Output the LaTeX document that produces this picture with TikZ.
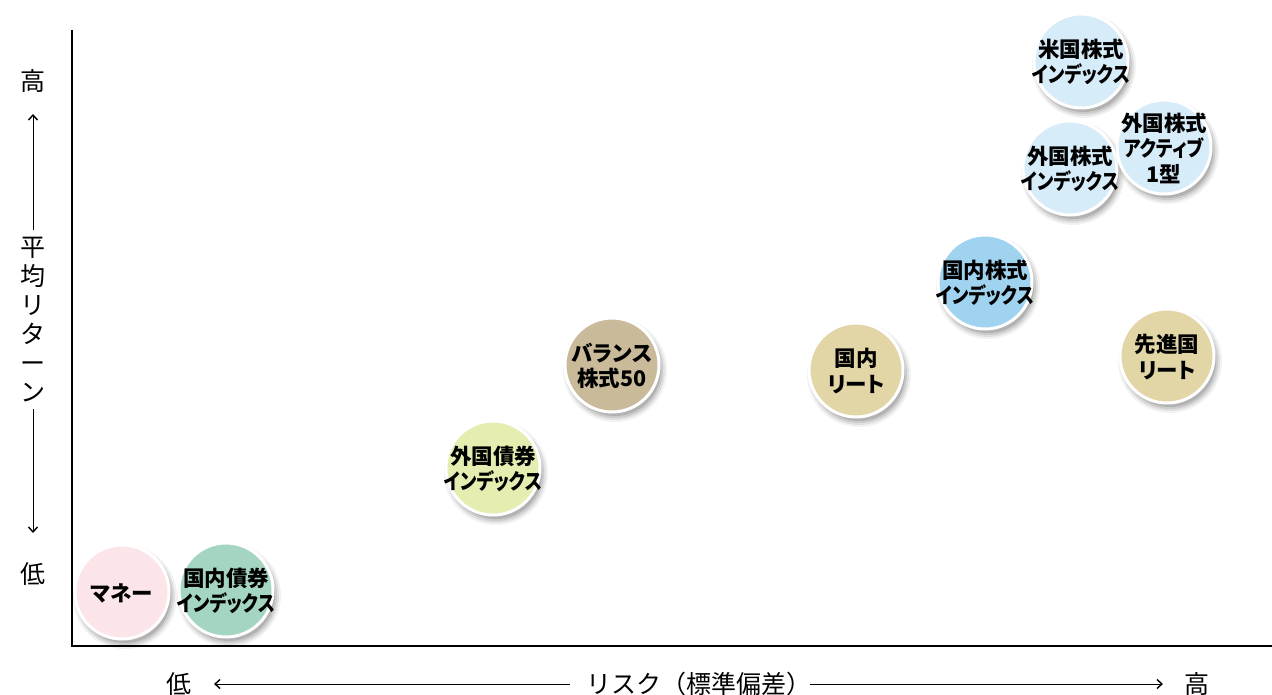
\documentclass[tikz,border=0pt]{standalone}
\usepackage{fontspec}
\setmainfont{Noto Sans CJK JP}
\newfontfamily\bubfont{Noto Sans CJK JP}[RawFeature=+palt]
\usetikzlibrary{arrows.meta}
\definecolor{cPink}{HTML}{FBE5E9}
\definecolor{cGreen}{HTML}{A3D5C0}
\definecolor{cLime}{HTML}{E5EDB0}
\definecolor{cTan}{HTML}{C9BA9A}
\definecolor{cSand}{HTML}{E2D6A7}
\definecolor{cBlue}{HTML}{9FD3F0}
\definecolor{cPale}{HTML}{D6ECF8}
\newcommand\kana[1]{\scalebox{0.84}[1]{#1}}
\tikzset{
  bub/.style={circle, minimum size=94pt, inner sep=0pt, draw=white, line width=3pt},
  bubtext/.style={align=center, inner sep=0pt, font=\bubfont\bfseries\fontsize{21.5}{25.5}\selectfont, text=black},
  axlabel/.style={inner sep=0pt, font=\fontsize{25}{27}\selectfont},
  axline/.style={line width=2.6pt, black},
  guide/.style={line width=1pt, black, -{Straight Barb[length=5pt,width=9pt,line width=1.4pt]}}
}
\newcommand\bubble[5]{%
  \foreach \r/\o in {52/0.05,50/0.07,48/0.09,46/0.12}{
    \fill[black, opacity=\o] (#2+3,#3+5) circle (\r pt);
  }
  \node[bub, fill=#4] (#1) at (#2,#3) {};
  \node[bubtext] (#1t) at ([yshift=-1pt]#1) {#5};
}
\begin{document}
\begin{tikzpicture}[x=1pt, y=-1pt]
\useasboundingbox[fill=white] (0,0) rectangle (1272,695);
% axes
\coordinate (ytop) at (72,30);
\coordinate (orig) at (72,646);
\coordinate (xend) at (1272,646);
\draw[axline] (ytop) -- (orig) -- (xend);
% y axis labels
\node[axlabel] (yhi) at (33,81) {高};
\node[axlabel, align=center, font=\fontsize{25}{29}\selectfont] (ytitle) at (33,320) {平\\均\\リ\\タ\\ー\\ン};
\node[axlabel] (ylo) at (33,574) {低};
\coordinate (yu1) at (33,230);
\coordinate (yu2) at (33,114);
\coordinate (yd1) at (33,409);
\coordinate (yd2) at (33,533);
\draw[guide] (yu1) -- (yu2);
\draw[guide] (yd1) -- (yd2);
% x axis labels
\node[axlabel] (xlo) at (179,684) {低};
\node[axlabel] (xtitle) at (699,684) {リスク（標準偏差）};
\node[axlabel] (xhi) at (1197,684) {高};
\coordinate (xl1) at (570,684);
\coordinate (xl2) at (214,684);
\coordinate (xr1) at (810,684);
\coordinate (xr2) at (1163,684);
\draw[guide] (xl1) -- (xl2);
\draw[guide] (xr1) -- (xr2);
% bubbles
\bubble{money}{122}{592}{cPink}{マネー}
\bubble{dombond}{226}{590}{cGreen}{国内債券\\\kana{インデックス}}
\bubble{forbond}{493}{468}{cLime}{外国債券\\\kana{インデックス}}
\bubble{balance}{612}{365}{cTan}{バランス\\株式50}
\bubble{domreit}{856}{370}{cSand}{国内\\リート}
\bubble{domstock}{985}{282}{cBlue}{国内株式\\\kana{インデックス}}
\bubble{devreit}{1167}{356}{cSand}{先進国\\リート}
\bubble{usstock}{1081}{61}{cPale}{米国株式\\\kana{インデックス}}
\bubble{forstock}{1070}{168}{cPale}{外国株式\\\kana{インデックス}}
\bubble{foractive}{1164}{147}{cPale}{外国株式\\\kana{アクティブ}\\1型}
\end{tikzpicture}
\end{document}
